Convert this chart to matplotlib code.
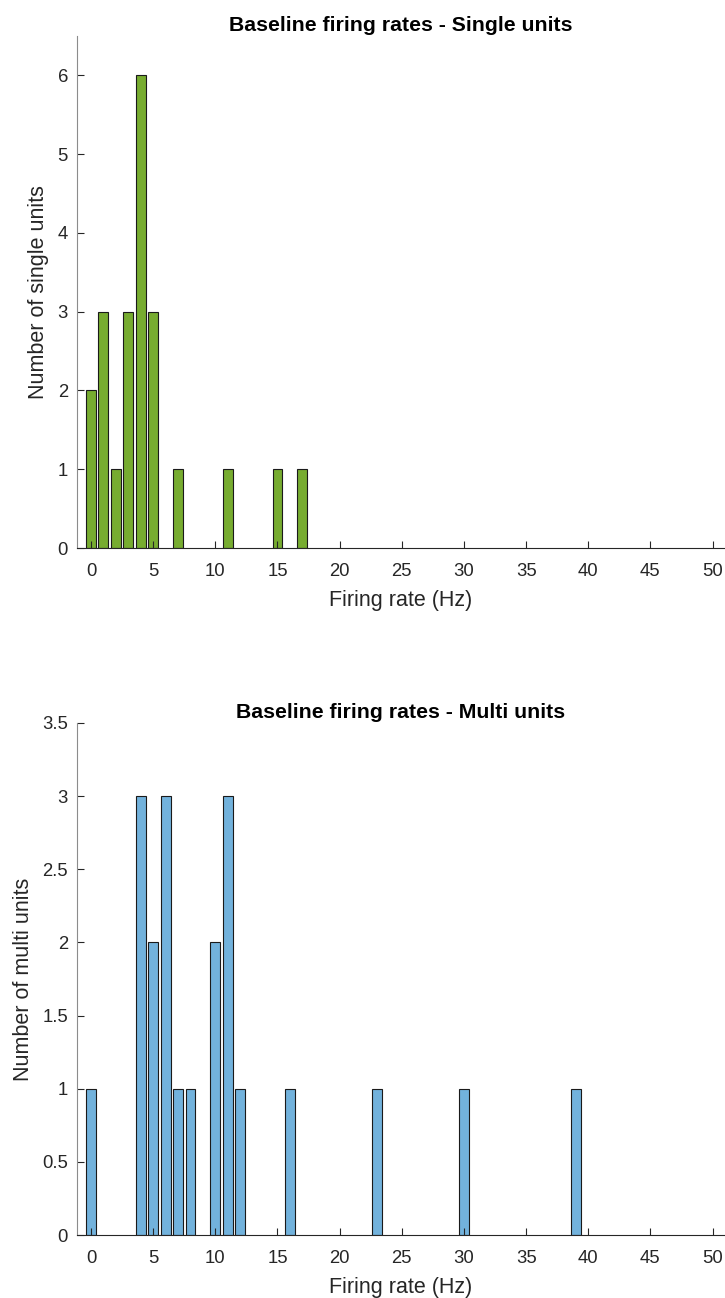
import numpy as np
import matplotlib
matplotlib.use('Agg')
import matplotlib.pyplot as plt
from matplotlib.ticker import FormatStrFormatter

#Histogram counts (bin centre in Hz -> count)
single_rates = [0, 1, 2, 3, 4, 5, 7, 11, 15, 17]
single_counts = [2, 3, 1, 3, 6, 3, 1, 1, 1, 1]

multi_rates = [0, 4, 5, 6, 7, 8, 10, 11, 12, 16, 23, 30, 39]
multi_counts = [1, 3, 2, 3, 1, 1, 2, 3, 1, 1, 1, 1, 1]

x_ticks = np.arange(0, 51, 5)

plt.rcParams['font.family'] = ['Liberation Sans', 'DejaVu Sans']
txt = '#262626'

fig = plt.figure(figsize=(7.25, 12.98), dpi=100)
ax1 = fig.add_axes([0.1062, 0.5778, 0.8938, 0.3945])
ax2 = fig.add_axes([0.1062, 0.0485, 0.8938, 0.3945])

def style(ax, ymax, yticks, ylabel, title):
    ax.set_xlim(-1.13, 51.0)
    ax.set_ylim(0, ymax)
    ax.set_xticks(x_ticks)
    ax.set_yticks(yticks)
    ax.yaxis.set_major_formatter(FormatStrFormatter('%g'))
    for s in ['top', 'right']:
        ax.spines[s].set_visible(False)
    ax.spines['left'].set_color('#8c8c8c')
    ax.spines['bottom'].set_color(txt)
    ax.tick_params(direction='in', length=5, width=0.8, colors=txt, labelsize=13.3)
    ax.tick_params(axis='x', pad=10.8)
    ax.tick_params(axis='y', pad=6.5)
    ax.set_xlabel('Firing rate (Hz)', fontsize=15.5, color=txt, labelpad=7)
    ax.set_ylabel(ylabel, fontsize=15.5, color=txt, labelpad=6)
    ax.set_title(title, fontsize=15.3, fontweight='bold', pad=3.6)

ax1.bar(single_rates, single_counts, width=0.8, color='#77AC30', edgecolor='#1a1a1a', linewidth=0.8)
style(ax1, 6.5, np.arange(0, 7, 1), 'Number of single units', 'Baseline firing rates - Single units')

ax2.bar(multi_rates, multi_counts, width=0.8, color='#72B2DC', edgecolor='#1a1a1a', linewidth=0.8)
style(ax2, 3.5, np.arange(0, 3.6, 0.5), 'Number of multi units', 'Baseline firing rates - Multi units')

fig.savefig('out.png', dpi=100)
